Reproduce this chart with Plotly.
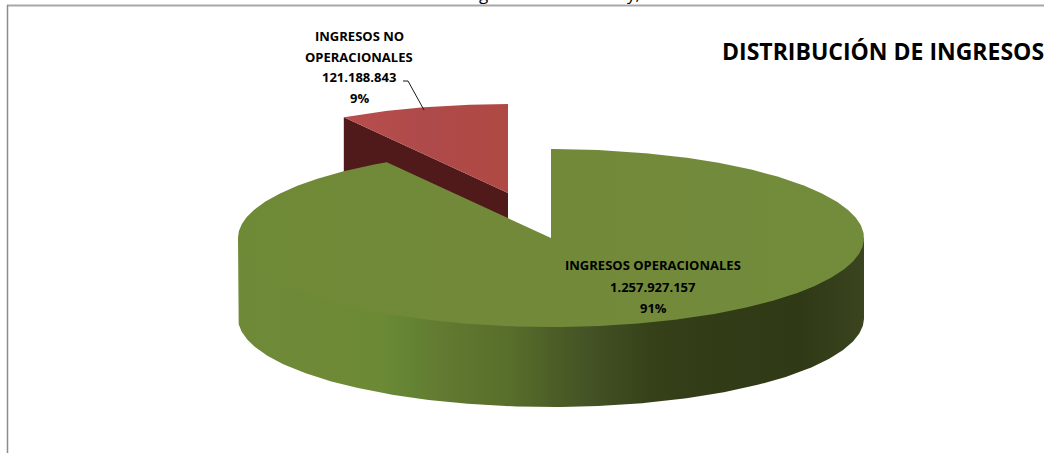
import numpy as np
import plotly.graph_objects as go

categories = ["INGRESOS OPERACIONALES", "INGRESOS NO OPERACIONALES"]
values = [1257927157, 121188843]
title_text = "DISTRIBUCIÓN DE INGRESOS"
label_lines_green = ["INGRESOS OPERACIONALES"]
label_lines_red = ["INGRESOS NO", "OPERACIONALES"]

W, H = 1044, 453
CX, CY = 551.0, 238.0   # pie centre on screen
RX, RY = 313.0, 89.0    # projected ellipse radii
DEPTH = 80.0
EXPLODE_X, EXPLODE_Y = -43.0, -45.0
FONT = "Open Sans"

total = sum(values)
sweep_green = values[0] / total * 2 * np.pi


def arc(t0, t1, cx, cy, n=240):
    t = np.linspace(t0, t1, n)
    return cx + RX * np.sin(t), cy - RY * np.cos(t)


def fmt(v):
    return f"{v:,}".replace(",", ".")


fig = go.Figure()


def poly(x, y, color=None, grad=None):
    kw = dict(x=list(x), y=list(y), mode="lines", fill="toself",
              line=dict(width=0), hoverinfo="skip", showlegend=False)
    if grad is not None:
        kw["fillgradient"] = grad
    else:
        kw["fillcolor"] = color
    fig.add_trace(go.Scatter(**kw))


# exploded red slice
rcx, rcy = CX + EXPLODE_X, CY + EXPLODE_Y
ax, ay = arc(sweep_green, 2 * np.pi, rcx, rcy)
poly([rcx, ax[0], ax[0], rcx], [rcy, ay[0], ay[0] + DEPTH, rcy + DEPTH], "#511a1a")
poly([rcx, *ax], [rcy, *ay], grad=dict(
    type="horizontal", start=345, stop=508,
    colorscale=[[0, "#b84e4c"], [0.5, "#ae4a4a"], [1, "#b04943"]]))

# green slice: outer wall (tucked under the top face) then top face
wx, wy = arc(np.pi / 2, 3 * np.pi / 2, CX, CY)
ix, iy = CX + (wx - CX) * 0.985, CY + (wy - CY) * 0.95
wall_stops = [(238, "#6f8938"), (380, "#6c8a36"), (410, "#648434"), (440, "#627a31"),
              (510, "#586e2b"), (550, "#4d5f27"), (590, "#445225"), (650, "#364119"),
              (700, "#323c17"), (800, "#2f3915"), (864, "#3a4520")]
x0, x1 = wall_stops[0][0], wall_stops[-1][0]
poly([wx[0], *ix, wx[-1], *wx[::-1]], [wy[0], *iy, wy[-1], *(wy[::-1] + DEPTH)], grad=dict(
    type="horizontal", start=x0, stop=x1,
    colorscale=[[(x - x0) / (x1 - x0), c] for x, c in wall_stops]))
gx, gy = arc(0, sweep_green, CX, CY, n=600)
poly([CX, *gx], [CY, *gy], grad=dict(
    type="horizontal", start=238, stop=864,
    colorscale=[[0, "#6f8a37"], [0.5, "#72893a"], [1, "#728c3c"]]))

annotations = []


def text(x, y, s, size, weight="bold", family=FONT, xanchor="center"):
    annotations.append(dict(
        x=x, y=1 - y / H, xref="x", yref="paper", text=s, showarrow=False, xanchor=xanchor,
        yanchor="middle",
        font=dict(family=family, size=size, color="#000000", weight=weight)))


green_lines = label_lines_green + [fmt(values[0]), f"{round(values[0] / total * 100)}%"]
for yy, s in zip([265, 287, 308], green_lines):
    text(653, yy, s, 13)
red_lines = label_lines_red + [fmt(values[1]), f"{round(values[1] / total * 100)}%"]
for yy, s in zip([36, 57, 77, 98], red_lines):
    text(359, yy, s, 13)
text(720, 51, title_text, 23, xanchor="left")
# clipped remnants of a caption cut off by the picture's top edge
text(483, -6, "g", 17, weight="normal")
text(633, -6, "y,", 17, weight="normal")

shapes = [
    dict(type="line", x0=7, x1=W, y0=5.5, y1=5.5, line=dict(color="#a8a8a8", width=2), layer="below"),
    dict(type="line", x0=7.5, x1=7.5, y0=5, y1=H, line=dict(color="#8c8c8c", width=1.5), layer="below"),
    dict(type="path", path="M403,81 L408,81 L424,110", line=dict(color="#1a1a1a", width=1)),
]

fig.update_layout(
    width=W, height=H, margin=dict(l=0, r=0, t=0, b=0),
    paper_bgcolor="#ffffff", plot_bgcolor="#ffffff",
    xaxis=dict(range=[0, W], visible=False, fixedrange=True),
    yaxis=dict(range=[H, 0], visible=False, fixedrange=True),
    annotations=annotations, shapes=shapes, showlegend=False,
)
fig.write_html("out.html", config={"displayModeBar": False},
               post_script="document.body.style.margin='0';document.body.style.overflow='hidden';")
